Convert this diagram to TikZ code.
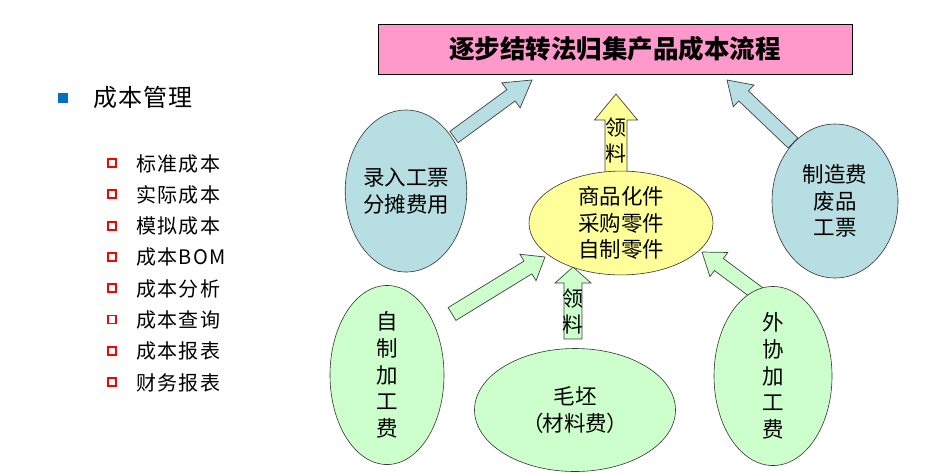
\documentclass[tikz,border=0pt]{standalone}
\usepackage{fontspec}
\setmainfont{Noto Sans CJK SC}
\newfontfamily\listcjk[LetterSpace=7]{Noto Sans CJK SC}
\newfontfamily\headcjk[LetterSpace=4]{Noto Sans CJK SC}
\usetikzlibrary{shapes.geometric, calc}
\definecolor{titlepink}{RGB}{255,153,204}
\definecolor{cellblue}{RGB}{183,222,226}
\definecolor{cellgreen}{RGB}{204,255,204}
\definecolor{cellyellow}{RGB}{255,255,153}
\definecolor{bulletblue}{RGB}{0,112,192}
% block arrow: style, tail, tip, half shaft, half head, head length
\newcommand{\blkarrow}[6]{%
  \coordinate (hb) at ($(#3)!#6!(#2)$);
  \draw[#1] ($(#2)!#4!90:(#3)$) -- ($(hb)!#4!90:(#3)$) -- ($(hb)!#5!90:(#3)$)
    -- (#3) -- ($(hb)!#5!270:(#3)$) -- ($(hb)!#4!270:(#3)$)
    -- ($(#2)!#4!270:(#3)$) -- cycle;}

\begin{document}
\begin{tikzpicture}[x=1pt,y=-1pt,
  ell/.style={ellipse, draw=black!80, line width=0.6pt, inner sep=0pt, align=center,
    font=\fontsize{21.5}{26.7}\selectfont},
  blueell/.style={ell, fill=cellblue},
  greenell/.style={ell, fill=cellgreen},
  yellowell/.style={ell, fill=cellyellow},
  blk/.style={draw=black!75, line width=0.7pt, line join=miter},
  lingtxt/.style={align=center, inner sep=0pt, font=\fontsize{21}{26}\selectfont}]
  \useasboundingbox (0,0) rectangle (944,475);

  % left list
  \fill[bulletblue] (58,93) rectangle (68,103);
  \node[anchor=west, inner sep=0pt, font=\headcjk\fontsize{24}{24}\selectfont]
    (cbgl) at (93,97) {成本管理};
  \foreach \i/\txt in {0/标准成本,1/实际成本,2/模拟成本,3/成本BOM,
                       4/成本分析,5/成本查询,6/成本报表,7/财务报表}{
    \draw[red, line width=1.8pt] (108,159+31.3*\i) rectangle (116,167+31.3*\i);
    \node[anchor=west, inner sep=0pt, font=\listcjk\fontsize{20}{20}\selectfont]
      (item\i) at (136,163.5+31.3*\i) {\txt};
  }

  % title
  \node[draw=black, line width=0.8pt, fill=titlepink, minimum width=474pt,
    minimum height=50pt, font=\bfseries\fontsize{25.5}{25.5}\selectfont]
    (title) at (615,49) {逐步结转法归集产品成本流程};

  % arrow ends
  \coordinate (a1s) at (454,137); \coordinate (a1e) at (532,80);
  \coordinate (a2s) at (793,143); \coordinate (a2e) at (727,80);
  \coordinate (a3s) at (452,314); \coordinate (a3e) at (545,257);
  \coordinate (a4s) at (799,324); \coordinate (a4e) at (702,252);
  \coordinate (a5s) at (616,175); \coordinate (a5e) at (616,94);
  \coordinate (a6s) at (573,339); \coordinate (a6e) at (573,267);

  \blkarrow{blk, fill=cellblue}{a1s}{a1e}{7pt}{15.5pt}{26pt}
  \blkarrow{blk, fill=cellblue}{a2s}{a2e}{7pt}{15pt}{23pt}
  \blkarrow{blk, fill=cellgreen}{a3s}{a3e}{7.5pt}{15.5pt}{20pt}
  \blkarrow{blk, fill=cellgreen}{a4s}{a4e}{7.5pt}{15pt}{21pt}
  \blkarrow{blk, fill=cellyellow}{a5s}{a5e}{11pt}{21.5pt}{26pt}
  \blkarrow{blk, fill=cellgreen}{a6s}{a6e}{9pt}{18pt}{16pt}
  \node[lingtxt] (ling1) at (616,140) {领\\料};
  \node[lingtxt] (ling2) at (573,311) {领\\料};

  % ellipses
  \node[blueell, minimum width=116pt, minimum height=162pt] (lurugp) at (406,191)
    {录入工票\\分摊费用};
  \node[blueell, minimum width=126pt, minimum height=154pt] (zhizaofei) at (835,201)
    {制造费\\废品\\工票};
  \node[yellowell, minimum width=184pt, minimum height=83pt] (lingjian) at (621,223)
    {商品化件\\采购零件\\自制零件};
  \node[greenell, minimum width=114pt, minimum height=160pt] (zizhi) at (387,375)
    {自\\制\\加\\工\\费};
  \node[greenell, minimum width=201pt, minimum height=123pt] (maopi) at (575,410)
    {毛坯\\{\addfontfeature{RawFeature=+palt}（材料费）}};
  \node[greenell, minimum width=118pt, minimum height=156pt] (waixie) at (773,376)
    {外\\协\\加\\工\\费};
\end{tikzpicture}
\end{document}
